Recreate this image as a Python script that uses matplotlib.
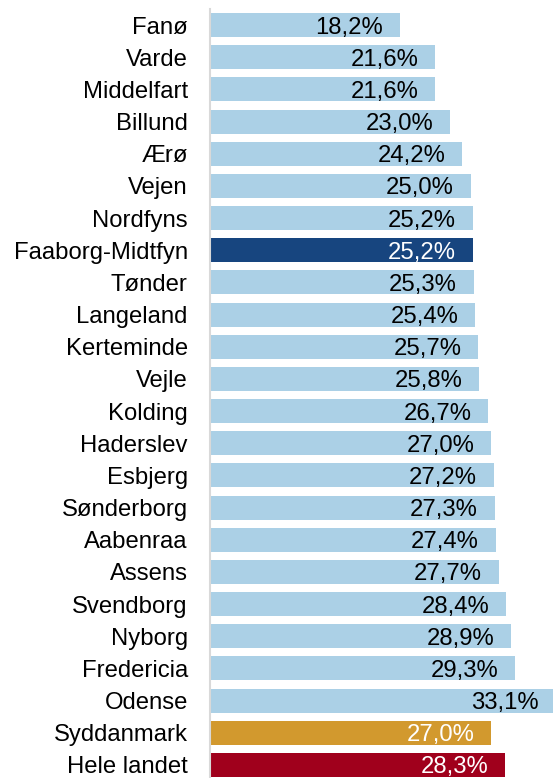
import matplotlib.pyplot as plt

kommuner = [
    "Fanø", "Varde", "Middelfart", "Billund", "Ærø", "Vejen", "Nordfyns",
    "Faaborg-Midtfyn", "Tønder", "Langeland", "Kerteminde", "Vejle", "Kolding",
    "Haderslev", "Esbjerg", "Sønderborg", "Aabenraa", "Assens", "Svendborg",
    "Nyborg", "Fredericia", "Odense", "Syddanmark", "Hele landet",
]
andel = [
    18.2, 21.6, 21.6, 23.0, 24.2, 25.0, 25.2, 25.2, 25.3, 25.4, 25.7, 25.8,
    26.7, 27.0, 27.2, 27.3, 27.4, 27.7, 28.4, 28.9, 29.3, 33.1, 27.0, 28.3,
]

LYS = "#abd0e6"
farver = {"Faaborg-Midtfyn": "#17457f", "Syddanmark": "#d2992e", "Hele landet": "#a0001c"}

plt.rcParams["font.family"] = ["Liberation Sans", "DejaVu Sans"]
FS = 17.2

fig = plt.figure(figsize=(5.53, 7.78), dpi=100)
ax = fig.add_axes([210 / 553, -3 / 778, 343 / 553, 772 / 778])

pos = list(range(len(kommuner)))
cols = [farver.get(k, LYS) for k in kommuner]
ax.barh(pos, andel, height=0.75, color=cols)

# værdier inde i søjlen, højrestillet
for i, (k, v) in enumerate(zip(kommuner, andel)):
    tc = "white" if k in farver else "black"
    ax.annotate(f"{v:.1f}%".replace(".", ","), (v, i), xytext=(-12, 0),
                textcoords="offset points", ha="right", va="center_baseline",
                fontsize=FS, color=tc, annotation_clip=False)

ax.set_xlim(0, 32.9)
ax.set_ylim(len(kommuner) - 0.5, -0.5)
ax.set_yticks(pos)
ax.set_yticklabels(kommuner, fontsize=FS)
ax.tick_params(axis="y", length=0, pad=16)
ax.set_xticks([])
for s in ["top", "right", "bottom"]:
    ax.spines[s].set_visible(False)
ax.spines["left"].set_color("#d9d9d9")
ax.spines["left"].set_linewidth(1.5)

fig.savefig("out.png", dpi=100)
